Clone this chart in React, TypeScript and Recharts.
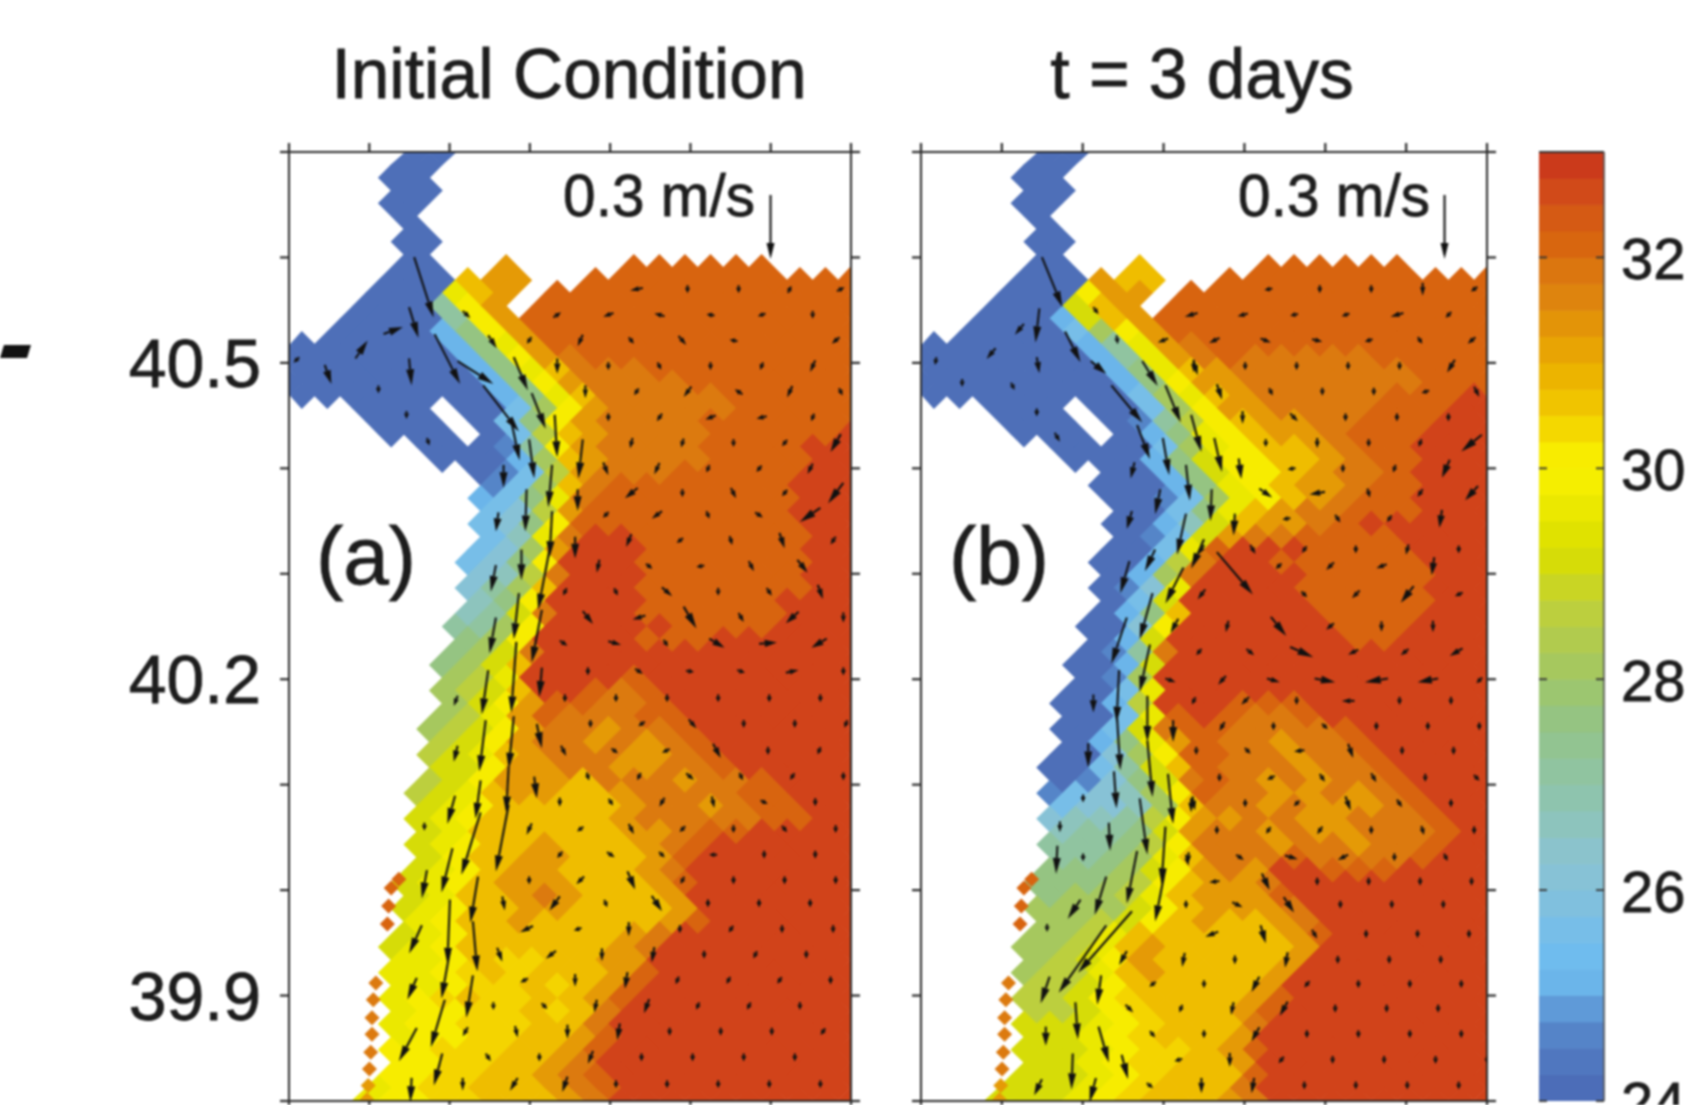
import React from "react";
import { ScatterChart, Scatter, XAxis, YAxis, BarChart, Bar } from "recharts";

const FONT = '"Liberation Sans", Arial, sans-serif';
const INK = "#1d1d1d";

// Colour bar bands, 24 to 33 degrees in steps of 0.25
const bandColors = [
  "#4c6db8", "#5077bf", "#5584c8", "#5f9ad8", "#6bb5ea", "#6fbcee", "#77bee8", "#80c0de", "#87c2d6",
  "#8bc3cc", "#8dc4bd", "#8ec4ae", "#90c4a0", "#92c491", "#95c482", "#9cc670", "#a6c85e", "#b1cb4e",
  "#bccf3e", "#c9d524", "#d6dc08", "#e0e200", "#ebe800", "#f5ee00", "#f8ec00", "#f4d800", "#f0c400",
  "#ecb400", "#e8a404", "#e39408", "#de840e", "#db760f", "#d8660f", "#d55a14", "#d14a19", "#cb3a1b",
];
const colorbarTicks = [24, 26, 28, 30, 32];

// Field levels: A=24, B=24.5 ... R=32.5 degrees, m=30.25
const levelKeys = "ABCDEFGHIJKLMNOPQRm";
const levelColors = [
  "#4e6fb8", "#5585c8", "#6bb5ea", "#77bee8", "#87c2d6", "#8dc4bd", "#90c4a0", "#95c482", "#a6c85e", "#bccf3e",
  "#d6dc08", "#ebe800", "#f7ec00", "#efbd00", "#e59a06", "#dc7a0f", "#d8640f", "#d1431a", "#f4d400",
];

// Field rows, '.' = land
const tempRowsA = [
  ".....AA................", "....AA................", "....AA.................", "....AA................",
  "....AA.................", "....A.................", ".....A.................", "....AA................",
  ".....A.................", "....AA..O....QQQQQQ...", "....AAANOO..QQQQQQQQQQQ", "...AAALNO.QQQQQQQQQQQQ",
  "...AAAGMO.QQQQQQQQQQQQQ", "..AAAAGMOQQQQQQQQQQQQQ", "..AAAACHMOQQQQQQQQQQQQQ", "AAAAAACHLOQQQQQQQQQQQQ",
  "AAAAAAACHMOPQQQQQQQQQQQ", "AAAAAAACHLNPPPQQQQQQQQ", "AAAAAAAACHMOPPPPQQQQQQQ", "AAAAAAAACHLNPPPPPQQQQQ",
  "...AAA.AADIMOPPPPPQQQQQ", "...AAA.ADHMOPPPPQQQQQQ", "....AAA.ADJNOPPPPQQQQQR", ".....AAABGMOPPPPQQQQRR",
  "......AAACINOPPPPQQQQRR", ".......ABDJOPPPQQQQQRR", "........BDINPQQQQQQQRRR", ".......CDHLPQQQQQQQQRR",
  "........DEJOQQQQQQQQRRR", ".......DEHMQQQQQQQQQRR", "........DFLPRRQQQQQQQRR", ".......DEIORRRQQQQQQRR",
  ".......DEHMRRRQQQQQQQRR", ".......EFJPRRRQQQQQQRR", ".......EGINRRRQQQQQQQRR", ".......FHMRRRRQQQQQRRR",
  ".......FGKPRRRQQQQQQRRR", "......GGIMRRRRRQQQQRRR", ".......HIMRRRRQQQRRRRRR", "......HIKPRRRRRRRRRRRR",
  "......HIKNRRRRRRRRRRRRR", "......IJLRRRRQRRRRRRRR", "......IJKNRRQPQRRRRRRRR", "......IKMOQQPPQRRRRRRR",
  "......IJLOQPPPQQRRRRRRR", ".....IJKMOPPOPPQRRRRRR", "......JKMOPPOPOPQRRRRRR", ".....JKLNOPPPOOPQRRRRR",
  "......KKMOOPPOOPPQRRRRR", ".....JKMOOONPPPOPPQRRR", ".....JKLNOONNOPPPPQQRRR", ".....KLMNNNNNOPPOPQQRR",
  ".....KLMNNNNNOPPPPPQQRR", ".....KLNNNNNNOOPQQRRRR", ".....KLMNNONNNOPQRRRRRR", ".....KMNNOONNNOQRRRRRR",
  ".....KLMNOONNNOPRRRRRRR", "....KLMNOOONNNOQRRRRRR", ".....KLNNOPONNNORRRRRRR", "....KLMNNOONNNNORRRRRR",
  ".....LMNNONNNNNOQRRRRRR", "....KLMNNNNNNOPRRRRRRR", "....KLMNNNNNNOPRRRRRRRR", "....LLMNmmNNOORRRRRRRR",
  "....LLMmNmNNNOQRRRRRRRR", "....LLMmmNmNOQRRRRRRRR", "....LMmNmmNNOQRRRRRRRRR", "....LMMmmNmNPRRRRRRRRR",
  "....LMMmmmNNPRRRRRRRRRR", "....LMMmmNNOQRRRRRRRRR", "....MMmmmNNOQRRRRRRRRRR", "....MMmmNNOPRRRRRRRRRR",
  "....MMmmNNOPQRRRRRRRRRR", "...LMmmNNNOPQRRRRRRRRR", "...LMMmmNNNOPRRRRRRRRRR",
];

const tempRowsB = [
  ".....AA................", "....AA................", "....AA.................", "....AA................",
  "....AA.................", "....A.................", ".....A.................", "....AA................",
  ".....A.................", "....AA..N....QQQQQQ...", "....AAAONN..QQQQQQQQQQQ", "...AAAMOO.QQQQQQQQQQQQ",
  "...AAAKNO.QQQQQQQQQQQQQ", "..AAACKNOQQQQQQQQQQQQQ", "..AAAADIMOQQQQQQQQQQQQQ", "AAAAAACGLOPQQQQQQQQQQQ",
  "AAAAAAACGLOPQPPPPPQQQQQ", "AAAAAAACHLNOPPPPPPPQQQ", "AAAAAAAACHMOOPPPPPPPQQQ", "AAAAAAAADILNOPPPPPQQQR",
  "...AAA.AADIMOOPPPPQQQRR", "...AAA.ABGJMNOOPPQQQRR", "....AAA.ACHLMNOOPQQQRRR", ".....AAAADILMNNOPQQRRR",
  "......AAACHKMMNNOPQQRRR", ".......AACHKMMNOPPQRRR", ".......AAACHLMNOOPQQRRR", ".......AABDILMNOPQQRRR",
  "........AADHLNOPPQQQRRR", ".......AACFKNOOPQRRRRR", "........ABDKOPPQQQQRRRR", ".......AADLQRRRQQQQRRR",
  ".......AACJPRRQQQQQQRRR", ".......ACIPRRRRQQQQQRR", ".......ABELRRRRQQQQQRRR", ".......ADKRRRRRQQQQQRR",
  ".......ACHNRRRRRQQQQRRR", "......AAEMRRRRRRQQQRRR", ".......ACKRRRRRRRQQRRRR", "......ABGPRRRRRRRRRRRR",
  "......AACKRRRRRRRRRRRRR", "......ABIRRRRRRRRRRRRR", "......AADLRRRRRRRRRRRRR", ".....AACJRRRQQQRRRRRRR",
  "......AADLQRQPPQRRRRRRR", ".....AADKPQQPPPPQRRRRR", "......ACHLOQPPOPPQRRRRR", ".....AAEIMQQPPOPPQRRRR",
  ".....AADGKNQPPPOPPQRRRR", ".....ABEHKPQPOPOPPQRRR", ".....BDEFIMQPPOOPOPQRRR", ".....DEEFINPPOPOOOPQRR",
  ".....EFFGJMOOPPOOPPPQRR", ".....FGGHKOPPOPOOPPPQR", ".....GGGHJMPPPOPPOPPQRR", ".....GGHILNPPPQPPPPQRR",
  ".....HHHIKMOPORRQQQRRRR", "....HHHIJMNOOPRRRRRRRR", ".....HIIJLNOOOQRRRRRRRR", "....IIIIKMNOOOPRRRRRRR",
  ".....IIJKMNONNOPRRRRRRR", "....IIJLNNNNNNOQRRRRRR", "....IIJLNONNNNNORRRRRRR", "....IJKMONNNNNORRRRRRR",
  "....IJJLNONNNNORRRRRRRR", "....JJKMNNNNNORRRRRRRR", "....JJKMmNNNNOQRRRRRRRR", "....JJKMmNNNOQRRRRRRRR",
  "....KKKLMmNNNPRRRRRRRRR", "....KKLMmNNNORRRRRRRRR", "....KKKLMmmNOQRRRRRRRRR", "....KKLMmmNNORRRRRRRRR",
  "....KKKLMmNNNQRRRRRRRRR", "...KKKLMmNNNPRRRRRRRRR", "...KKKLMmNNNOPRRRRRRRRR",
];

// Coastal stations [col, row, level]
const stations = [
  [4.3, 56.7, "Q"], [4, 57.4, "Q"], [3.9, 58.8, "Q"], [3.85, 60.2, "Q"], [3.4, 64.8, "P"], [3.3, 66.1, "P"],
  [3.25, 67.5, "P"], [3.25, 68.8, "P"], [3.2, 70.2, "P"], [3.15, 71.5, "P"], [3.1, 72.8, "O"], [3.05, 73.9, "O"],
];

// Velocity rows: [row, first col, u, v, u, v ...], tenths of a cell, v positive southward
const velocityRowsA = [
  [10.7,13.6,-5,2,0,3,0,4,1,-4,3,-3],
  [12.7,10.5,3,-4,-4,3,-4,-2,-3,-1,-3,2,0,4],
  [14.7,9.4,-1,3,-2,9,2,5,3,7,-3,-1,0,0,-3,5],
  [16.7,10.5,0,12,0,2,1,4,0,3,-1,5,-2,9],
  [18.7,11.6,0,10,-1,3,-3,8,-3,-4,-2,9,1,4],
  [20.7,12.5,0,4,-2,6,-4,3,-4,2,-1,5],
  [22.7,13.4,-1,8,-1,7,0,2,-2,5,-4,14],
  [24.7,12.4,2,10,-2,9,-1,5,-2,5,-2,8],
  [26.6,13.4,-5,8,0,2,2,8,-2,5,-6,16],
  [28.3,12.4,-2,4,-4,6,1,5,3,4,-8,11],
  [30.3,13.3,-2,10,-2,3,1,7,2,12,-2,6],
  [32.3,12.1,-1,10,2,3,-3,1,2,8,4,10],
  [34.3,10.8,-1,4,1,4,4,7,0,4,2,6,2,11],
  [36.3,11.7,4,10,-5,3,5,17,2,7,-5,9,0,8],
  [38.3,10.75,3,4,5,3,1,3,6,7,7,-1,-6,7],
  [40.5,11.7,0,2,3,4,3,1,3,2,5,-2,0,3],
  [42.6,10.8,0,4,0,3,0,3,0,3,0,3,0,3],
  [44.6,11.8,0,5,-2,3,3,7,0,2,0,3,-1,5],
  [46.7,10.75,2,8,2,3,-3,3,3,11,0,2,-1,5],
  [48.7,11.7,1,6,-1,4,3,5,1,4,-1,3,0,6],
  [50.7,10.6,0,7,1,3,-2,7,1,9,2,2,0,4],
  [52.8,9.4,-2,9,-2,3,2,8,-2,4,0,3,2,5,0,3],
  [54.8,10.6,-2,5,3,4,1,2,-3,0,0,2,0,2],
  [56.8,9.4,0,2,-3,6,3,14,-1,4,0,2,0,2,0,3],
  [58.6,8.4,1,11,-4,11,1,5,4,12,0,3,0,3,0,2],
  [60.6,9.3,-5,5,-3,2,0,11,0,6,-1,3,0,3,0,3],
  [62.6,8.25,2,11,-4,6,0,10,-1,12,0,2,-1,4,0,3],
  [64.6,9.2,-3,3,0,10,-1,13,-1,5,-1,4,-1,3,0,3],
  [66.6,8,0,1,1,2,-1,10,-2,11,-1,5,-1,4,0,3],
  [68.6,6.9,-2,7,1,9,0,11,-1,13,0,3,0,2,0,2,-1,3],
  [70.6,7.8,2,6,0,4,-2,10,0,3,0,2,0,3,0,2],
  [72.7,6.8,0,10,-3,10,-2,12,0,2,0,3,0,2,0,2,0,2],
];

const velocityRowsB = [
  [10.7,13.5,-3,1,0,2,0,3,0,10,-2,3],
  [12.7,10.5,-5,3,-4,2,-2,1,-3,2,-5,3,-2,4],
  [14.7,9.4,-4,3,-4,4,4,3,4,2,-3,2,1,3,-3,5],
  [16.7,10.6,0,10,0,2,0,1,0,3,0,3,-3,10],
  [18.7,11.6,2,12,1,4,0,4,0,2,-3,2,2,8],
  [20.7,12.5,0,10,3,6,0,2,0,3,0,5],
  [22.7,13.4,0,5,0,8,0,2,-1,6,-8,13],
  [24.7,12.4,1,16,-3,1,0,3,-1,6,-3,14],
  [26.6,13.4,5,7,-6,2,1,7,-2,6,-5,11],
  [28.6,12.2,0,0,-3,1,2,6,-1,3,-1,14],
  [31,10.9,-2,7,2,7,-1,3,0,4,-1,8,0,5],
  [32.3,13.9,-1,2,-3,6,-4,3,-1,14],
  [34.5,10.9,-3,8,0,0,1,2,-3,6,-5,13,-3,3],
  [37,11.9,-1,9,6,15,-3,5,0,8,0,9],
  [39,10.8,-2,5,3,5,9,8,-4,4,-3,5,-5,6],
  [41.2,9.7,4,3,-3,7,5,3,8,3,-9,3,-8,3,-1,2],
  [42.8,10.6,-1,4,-3,6,0,2,-5,0,0,4,0,4],
  [44.8,11.7,-2,7,0,2,2,4,0,2,0,3,0,4],
  [46.7,10.7,0,3,2,4,-4,1,2,11,0,3,0,5],
  [48.8,11.6,0,2,-3,3,2,6,2,7,0,3,2,4],
  [50.8,10.6,1,11,0,1,-2,4,2,11,2,6,0,3],
  [52.9,11.5,0,3,-1,3,-2,6,0,5,1,7,0,5],
  [55,10.4,0,8,3,4,5,3,-4,4,0,5,1,4],
  [56.9,11.4,-4,1,3,13,0,3,0,2,0,2,0,3],
  [58.7,10.3,0,3,4,4,4,12,0,2,0,2,0,1],
  [61,11.3,-5,4,2,14,2,7,0,2,0,2,0,2],
  [63,10.2,-1,11,0,7,-1,12,0,2,0,2,0,2],
  [64.9,9,-2,3,0,2,-3,12,-2,5,0,2,0,2,0,3],
  [66.8,8.1,3,6,-1,5,-1,10,-3,11,0,2,0,1,0,1],
  [68.8,9,2,5,0,3,-3,11,0,2,0,3,0,1,0,3],
  [70.8,10,-3,2,0,11,-2,5,0,2,0,2,0,2,0,2],
  [72.8,8.9,2,3,0,12,-1,12,0,3,0,2,0,2,0,2],
];

// Strong current vectors along the front: [col, row, u, v] in cell units
const jetA = [
  [4.9,8.2,.76,4.7],[4.7,12.1,.37,2.4],[3.7,14.2,.76,-.55],[2.6,16.1,.48,-1.4],[1.4,16.6,.26,1.5],[4.7,16.1,.1,2.1],
  [5.7,14.2,1,3.9],[6.6,16.3,1.4,1.8],[7.6,18.2,1.4,3.6],[8.7,21,.33,3.05],[9.4,22.4,.2,3.05],[9.5,18.8,.55,2.8],
  [10.4,20.5,.1,3.3],[8.8,16,.55,2.6],[7.8,14.3,.33,1],[6.8,12.4,.3,.55],[11.5,22.4,-.17,3.05],[8.4,24.4,0,1.8],
  [10.3,24.4,-.15,3.3],[9.3,26.3,-.05,3.3],[11.3,26.3,0,1.7],[8.2,28.1,-.1,1.5],[10.3,28,-.1,3.6],[11.2,30,0,1.7],
  [9.1,31,0,2.4],[8.1,32.2,-.2,2.1],[8.1,36.3,-.25,2.8],[9,34.4,-.2,3.6],[10.2,31,-.45,4.7],[9.9,35.7,-.4,4.1],
  [7.8,40.4,-.25,3.45],[8.9,38.2,-.2,5.5],[9.9,40.2,-.1,2.3],[6.6,42.4,-.15,.8],[7.7,44.3,-.25,4],[8.8,44,-.2,4.1],
  [9.7,44.6,.2,1.9],[6.6,46.3,-.15,1.25],[8.6,47.9,-.1,3.6],[9.6,48.7,.1,1.7],[7.5,49,-.2,3],[6.5,50.2,-.3,2.2],
  [8.6,50.9,-.5,5.2],[7.5,51.5,-.75,4.85],[6.4,54.3,-.43,3.45],[5.4,56,-.2,2.2],[7.4,56.5,-.3,3.6],[6.3,58.3,-.1,5],
  [7.2,60,.17,3.9],[5.2,60.3,-.5,2.2],[6.3,62.3,-.33,3.7],[7.2,64.2,-.26,3.3],[5,64.4,-.37,1.7],[6.1,66.1,-.55,3.7],
  [5,68.3,-.7,2.6],[6,70.3,-.33,2.5],[4.8,72.2,-.05,1.9],
  [.4,16,-.1,.2],[3.5,18.2,0,.2],[4.6,20.2,0,.2],[5.4,22.3,.05,.3],[5.3,52.3,0,.3],
];

const jetB = [
  [4.7,8.2,.8,3.9],[4.6,12.2,-.15,2.65],[5.6,14,.6,2.4],[4,13.4,-.35,.85],[2.9,15.3,-.35,.85],[.6,16,-.05,.55],
  [4.5,16,.1,1.25],[1.6,17.7,0,.4],[3.5,18,.1,.4],[4.5,20,0,.3],[5.2,21.9,.2,.7],[6.6,16.3,.6,1],[7.4,18.2,1.2,2.9],
  [6.7,12.1,.2,.55],[7.6,14.3,.05,.7],[8.6,16.3,.6,1.95],[9.5,18.2,.6,2.9],[10.6,16.3,.15,1.1],[10.5,20.5,.4,2.9],
  [8.4,21.3,.5,2.65],[9.4,22.3,.25,2.9],[11.4,22.3,.3,2.65],[8.3,24.2,-.15,1.25],[10.3,24.4,.15,2.8],[11.3,26.3,-.05,2.5],
  [9.3,26.3,-.2,1.95],[8.2,28,-.2,1.4],[10.3,28.2,-.35,3.2],[12.2,28.2,-.05,1.7],[11,30.2,-.5,2.3],[9.1,31,-.4,1.7],
  [8.1,31.9,-.35,2.5],[9,34.4,-.5,3.6],[10.2,32.4,-.7,2.8],[11.5,31.2,1.4,3.3],[10,36.4,-.3,1.1],[8,36.3,-.6,3.6],
  [8.9,38.4,-.4,3.7],[7.7,40.4,-.1,4.1],[6.7,42.3,0,1.4],[8.8,42.4,0,3.6],[7.6,43.5,.15,4.7],[9.8,44.3,0,1.7],
  [8.8,45.9,.2,4.4],[6.5,46.1,0,1.9],[7.5,48.3,.1,2.9],[9.6,48.5,.2,3.9],[10.5,50.4,0,1.1],[8.5,50.4,.3,4.4],
  [6.3,50.1,0,.15],[5.4,52.2,0,.85],[7.3,52.3,.05,2.2],[9.5,52.6,-.15,4.5],[5.3,54.1,-.05,2.2],[6.3,54.7,0,.15],
  [8.4,54.5,-.4,4.1],[10.3,54.8,.1,.85],[9.5,55.9,-.4,4.1],[7.2,56.5,-.45,3],[6.2,58.3,-.5,1.5],[4.9,60.2,0,.2],
  [8.2,59.2,-2.1,4.8],[7.2,60.3,-1.85,5.25],[8,62.3,-.3,1.1],[5,64.3,-.35,2.1],[7,64.2,-.15,2.3],[6,66.3,.1,2.9],
  [4.85,68.2,0,1.5],[6.9,68.2,.4,2.8],[5.9,70.3,-.05,2.8],[7.8,70.4,.25,1.9],[4.7,72.3,-.3,1.25],[6.8,72.2,-.25,1.9],
];

// Reference vector for 0.3 m/s: [col, row, u, v]
const scaleVectorA = [[18.85, 3.35, 0, 5]];
const scaleVectorB = [[20.35, 3.35, 0, 5]];

const latTicks = [40.7, 40.6, 40.5, 40.4, 40.3, 40.2, 40.1, 40, 39.9, 39.8];
const latLabels = [40.5, 40.2, 39.9];
const lonTickCount = 8;

const COLS = 22;
const ROWS = 74;
const PLOT_H = 949;
const AXIS_H = 20;

const rowToLat = (r: number) => 40.7 - (r * 0.9) / ROWS;
const levelColor = (ch: string) => levelColors[levelKeys.indexOf(ch)];

function buildCells(rows: string[]) {
  const out: any[] = [];
  rows.forEach((row, r) => {
    row.split("").forEach((ch, c) => {
      if (ch === ".") return;
      out.push({ x: c + (r % 2 ? 0.5 : 0), y: rowToLat(r), fill: levelColor(ch) });
    });
  });
  return out;
}

function buildVelocity(rows: number[][]) {
  const out: any[] = [];
  rows.forEach((row) => {
    const [r, c0, ...vals] = row;
    for (let i = 0; i < vals.length; i += 2) {
      const du = vals[i] / 10;
      const dv = vals[i + 1] / 10;
      if (du === 0 && dv === 0) continue;
      out.push({ x: c0 + i, y: rowToLat(r), du, dv, centered: true });
    }
  });
  return out;
}

const buildVectors = (list: number[][]) =>
  list.map(([c, r, du, dv]) => ({ x: c, y: rowToLat(r), du, dv, centered: false }));

function Panel({ left, yAxisW, plotW, rows, velocity, jet, scaleVector, showLabels }: any) {
  const cellW = plotW / COLS;
  const cellH = PLOT_H / ROWS;
  const plotL = yAxisW + 1;
  const plotR = yAxisW + plotW - 1;
  const plotT = AXIS_H + 1;
  const plotB = AXIS_H + PLOT_H - 1;
  const clampX = (v: number) => Math.max(plotL, Math.min(plotR, v));
  const clampY = (v: number) => Math.max(plotT, Math.min(plotB, v));

  const diamond = (p: any, hw: number, hh: number, fill: string) => {
    const pts = [
      [p.cx - hw, p.cy], [p.cx, p.cy - hh], [p.cx + hw, p.cy], [p.cx, p.cy + hh],
    ].map(([a, b]) => `${clampX(a)},${clampY(b)}`).join(" ");
    return <polygon points={pts} fill={fill} />;
  };

  const cellShape = (p: any) => diamond(p, cellW / 2 + 0.5, cellH + 0.5, p.payload.fill);
  const stationShape = (p: any) => diamond(p, 7.5, 7.5, p.payload.fill);

  const arrowShape = (p: any) => {
    const { du, dv, centered } = p.payload;
    let dx = du * cellW;
    let dy = dv * cellH;
    let len = Math.hypot(dx, dy);
    if (len < 8) {
      const k = 8 / (len || 1);
      dx *= k;
      dy *= k;
      len = 8;
    }
    const x0 = centered ? p.cx - dx / 2 : p.cx;
    const y0 = centered ? p.cy - dy / 2 : p.cy;
    const ux = dx / len;
    const uy = dy / len;
    const h = Math.min(16, len * 0.68);
    const w = Math.min(4, Math.max(2.6, h * 0.3));
    const bx = x0 + dx - ux * h;
    const by = y0 + dy - uy * h;
    const head = `${x0 + dx},${y0 + dy} ${bx - uy * w},${by + ux * w} ${bx + uy * w},${by - ux * w}`;
    return (
      <g>
        <line x1={x0} y1={y0} x2={bx} y2={by} stroke="#111" strokeWidth={2.1} />
        <polygon points={head} fill="#111" />
      </g>
    );
  };

  const lonTicks = Array.from({ length: lonTickCount }, (_, i) => (i * COLS) / (lonTickCount - 1));
  const blank = () => "";
  const axisLine = { stroke: "#2a2a2a", strokeWidth: 2 };
  const tickLine = { stroke: "#2a2a2a", strokeWidth: 2.2 };
  const stationData = stations.map(([c, r, l]: any) => ({ x: c, y: rowToLat(r), fill: levelColor(l) }));

  return (
    <div style={{ position: "absolute", left, top: 152 - AXIS_H }}>
      <ScatterChart
        width={yAxisW + plotW + 20}
        height={AXIS_H * 2 + PLOT_H}
        margin={{ top: 0, right: 0, bottom: 0, left: 0 }}
      >
        <XAxis xAxisId="b" type="number" dataKey="x" domain={[0, COLS]} ticks={lonTicks} interval={0} orientation="bottom"
          height={AXIS_H} tickFormatter={blank} tickSize={9} axisLine={axisLine} tickLine={tickLine} allowDataOverflow />
        <XAxis xAxisId="t" type="number" dataKey="x" domain={[0, COLS]} ticks={lonTicks} interval={0} orientation="top"
          height={AXIS_H} tickFormatter={blank} tickSize={9} axisLine={axisLine} tickLine={tickLine} allowDataOverflow />
        <YAxis yAxisId="l" type="number" dataKey="y" domain={[39.8, 40.7]} ticks={latTicks} interval={0} orientation="left"
          width={yAxisW} tickSize={9} tickMargin={19} axisLine={axisLine} tickLine={tickLine} allowDataOverflow
          tickFormatter={(v: number) => (showLabels && latLabels.some((l) => Math.abs(l - v) < 1e-6) ? v.toFixed(1) : "")}
          tick={{ fontSize: 68, fill: INK, fontFamily: FONT, stroke: INK, strokeWidth: 0.8 }} />
        <YAxis yAxisId="r" type="number" dataKey="y" domain={[39.8, 40.7]} ticks={latTicks} interval={0} orientation="right"
          width={20} tickSize={9} tickFormatter={blank} axisLine={axisLine} tickLine={tickLine} allowDataOverflow />
        <Scatter xAxisId="b" yAxisId="l" data={buildCells(rows)} shape={cellShape} isAnimationActive={false} />
        <Scatter xAxisId="b" yAxisId="l" data={stationData} shape={stationShape} isAnimationActive={false} />
        <Scatter xAxisId="b" yAxisId="l" data={buildVelocity(velocity)} shape={arrowShape} isAnimationActive={false} />
        <Scatter xAxisId="b" yAxisId="l" data={buildVectors(jet)} shape={arrowShape} isAnimationActive={false} />
        <Scatter xAxisId="b" yAxisId="l" data={buildVectors(scaleVector)} shape={arrowShape} isAnimationActive={false} />
      </ScatterChart>
    </div>
  );
}

function Colorbar() {
  const row: any = { base: 24 };
  bandColors.forEach((_, i) => (row[`b${i}`] = 0.25));
  const frame = { stroke: "#555", strokeWidth: 1.6 };
  const tick = (p: any) => {
    const { x, y, payload } = p;
    return (
      <g>
        <line x1={x - 65} x2={x - 57} y1={y} y2={y} stroke="#333" strokeWidth={1.8} />
        <line x1={x - 8} x2={x} y1={y} y2={y} stroke="#333" strokeWidth={1.8} />
        <text x={x + 17} y={y + 22} fontSize={58} fontFamily={FONT} fill={INK} stroke={INK} strokeWidth={0.8}>{payload.value}</text>
      </g>
    );
  };
  return (
    <div style={{ position: "absolute", left: 1539, top: 152 - AXIS_H }}>
      <BarChart width={165} height={AXIS_H * 2 + PLOT_H} data={[row]} barCategoryGap={0}
        margin={{ top: 0, right: 0, bottom: AXIS_H, left: 0 }}>
        <XAxis xAxisId="t" orientation="top" height={AXIS_H} tick={false} tickLine={false} axisLine={{ stroke: "#333", strokeWidth: 2 }} />
        <YAxis yAxisId="l" orientation="left" width={0} type="number" domain={[24, 33]} tick={false} tickLine={false} axisLine={frame} allowDataOverflow />
        <YAxis yAxisId="r" orientation="right" width={100} type="number" domain={[24, 33]} ticks={colorbarTicks} interval={0}
          tick={tick} tickLine={false} tickSize={0} tickMargin={0} axisLine={frame} allowDataOverflow />
        <Bar xAxisId="t" yAxisId="r" dataKey="base" stackId="s" fill="none" isAnimationActive={false} />
        {bandColors.map((c, i) => (
          <Bar key={c} xAxisId="t" yAxisId="r" dataKey={`b${i}`} stackId="s" fill={c} stroke={c} strokeWidth={0.8} isAnimationActive={false} />
        ))}
      </BarChart>
    </div>
  );
}

const overlayText = [
  { t: "Initial Condition", x: 569, y: 98, s: 69.5 },
  { t: "t = 3 days", x: 1202, y: 98, s: 69.5 },
  { t: "0.3 m/s", x: 659, y: 216, s: 58.5 },
  { t: "0.3 m/s", x: 1334, y: 216, s: 58.5 },
  { t: "(a)", x: 366, y: 584, s: 82 },
  { t: "(b)", x: 999, y: 584, s: 82 },
];

export default function App() {
  return (
    <div style={{ position: "absolute", left: 0, top: 0, width: 1708, height: 1105, overflow: "hidden", background: "#fff", filter: "blur(0.9px)" }}>
      <Panel left={118.5} yAxisW={170} plotW={562} rows={tempRowsA} velocity={velocityRowsA} jet={jetA} scaleVector={scaleVectorA} showLabels />
      <Panel left={901} yAxisW={20} plotW={566} rows={tempRowsB} velocity={velocityRowsB} jet={jetB} scaleVector={scaleVectorB} showLabels={false} />
      <Colorbar />
      <svg width={1708} height={1105} style={{ position: "absolute", left: 0, top: 0, pointerEvents: "none" }}>
        <polygon points="4,345 31,345 27,358 0,358" fill="#111" />
        {overlayText.map((d) => (
          <text key={d.t + d.x} x={d.x} y={d.y} fontSize={d.s} textAnchor="middle" fontFamily={FONT} fill={INK} stroke={INK} strokeWidth={0.8}>{d.t}</text>
        ))}
      </svg>
    </div>
  );
}
